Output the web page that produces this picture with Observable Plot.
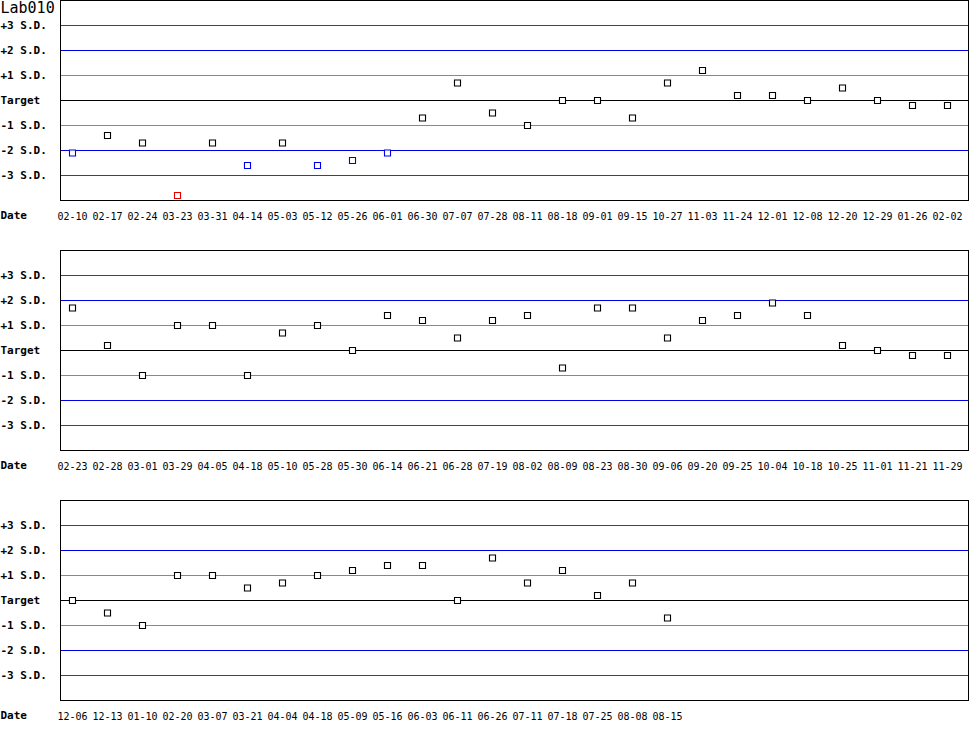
<!DOCTYPE html>
<html>
<head>
<meta charset="utf-8">
<script src="https://cdn.jsdelivr.net/npm/d3@7"></script>
<script src="https://cdn.jsdelivr.net/npm/@observablehq/plot@0.6"></script>
<style>
  body { margin: 0; background: #fff; color: #000; }
  #chart svg { display: block; }
</style>
</head>
<body>
<div id="chart"></div>
<script>
const title = "Lab010";
const levels = [3, 2, 1, 0, -1, -2, -3];
const levelLabels = ["+3 S.D.", "+2 S.D.", "+1 S.D.", "Target", "-1 S.D.", "-2 S.D.", "-3 S.D."];
const xLabel = "Date";

const dates1 = ["02-10","02-17","02-24","03-23","03-31","04-14","05-03","05-12","05-26","06-01","06-30","07-07","07-28","08-11","08-18","09-01","09-15","10-27","11-03","11-24","12-01","12-08","12-20","12-29","01-26","02-02"];
const values1 = [-2.1,-1.4,-1.7,-3.8,-1.7,-2.6,-1.7,-2.6,-2.4,-2.1,-0.7,0.7,-0.5,-1.0,0,0,-0.7,0.7,1.2,0.2,0.2,0,0.5,0,-0.2,-0.2];

const dates2 = ["02-23","02-28","03-01","03-29","04-05","04-18","05-10","05-28","05-30","06-14","06-21","06-28","07-19","08-02","08-09","08-23","08-30","09-06","09-20","09-25","10-04","10-18","10-25","11-01","11-21","11-29"];
const values2 = [1.7,0.2,-1.0,1.0,1.0,-1.0,0.7,1.0,0,1.4,1.2,0.5,1.2,1.4,-0.7,1.7,1.7,0.5,1.2,1.4,1.9,1.4,0.2,0,-0.2,-0.2];

const dates3 = ["12-06","12-13","01-10","02-20","03-07","03-21","04-04","04-18","05-09","05-16","06-03","06-11","06-26","07-11","07-18","07-25","08-08","08-15"];
const values3 = [0,-0.5,-1.0,1.0,1.0,0.5,0.7,1.0,1.2,1.4,1.4,0,1.7,0.7,1.2,0.2,0.7,-0.7];

const SLOTS = 26;
const font = "DejaVu Sans Mono";

function lineColor(l) {
  const a = Math.abs(l);
  if (a === 3) return "#e80000";
  if (a === 2) return "#0000e6";
  if (a === 1) return "#888888";
  return "#000000";
}
function pointColor(v) {
  const a = Math.abs(v);
  if (a > 3) return "#e80000";
  if (a > 2) return "#0000e6";
  return "#000000";
}

function panel(dates, values, withTitle) {
  const data = dates.map((d, i) => ({i, date: d, v: values[i]}));
  const ticks = dates.map((d, i) => i);
  const marks = [
    Plot.ruleY(levels, {y: d => d, stroke: d => lineColor(d), strokeWidth: 1}),
    Plot.frame({stroke: "#000", strokeWidth: 1}),
    Plot.dot(data, {x: "i", y: "v", symbol: "square", r: 3.4, fill: "#fff",
      stroke: d => pointColor(d.v), strokeWidth: 1.1}),
    Plot.axisX(ticks, {tickFormat: i => dates[i], tickSize: 0, tickPadding: 12, label: null,
      fontSize: 10, fontFamily: font, fill: "#000"}),
    Plot.text(levels, {y: d => d, text: (d, i) => levelLabels[i], frameAnchor: "left",
      dx: -60, textAnchor: "start", fontWeight: "bold", fontSize: 11, fontFamily: font, fill: "#000"}),
    Plot.text([xLabel], {frameAnchor: "bottom-left", dx: -60, dy: 15, textAnchor: "start",
      lineAnchor: "middle", fontWeight: "bold", fontSize: 11, fontFamily: font, fill: "#000"})
  ];
  if (withTitle) {
    marks.push(Plot.text([title], {frameAnchor: "top-left", dx: -60, dy: 8, textAnchor: "start",
      lineAnchor: "middle", fontSize: 15, fontFamily: font, fill: "#000"}));
  }
  return Plot.plot({
    width: 970,
    height: 250,
    marginLeft: 60,
    marginRight: 2,
    marginTop: 0,
    marginBottom: 50,
    style: {fontFamily: font, fontSize: "10px", color: "#000", background: "#fff", overflow: "visible"},
    x: {type: "linear", domain: [-12 / 35, (SLOTS * 35 - 14) / 35], axis: null},
    y: {domain: [-4, 4], axis: null},
    marks
  });
}

const root = document.getElementById("chart");
root.appendChild(panel(dates1, values1, true));
root.appendChild(panel(dates2, values2, false));
root.appendChild(panel(dates3, values3, false));
</script>
</body>
</html>
